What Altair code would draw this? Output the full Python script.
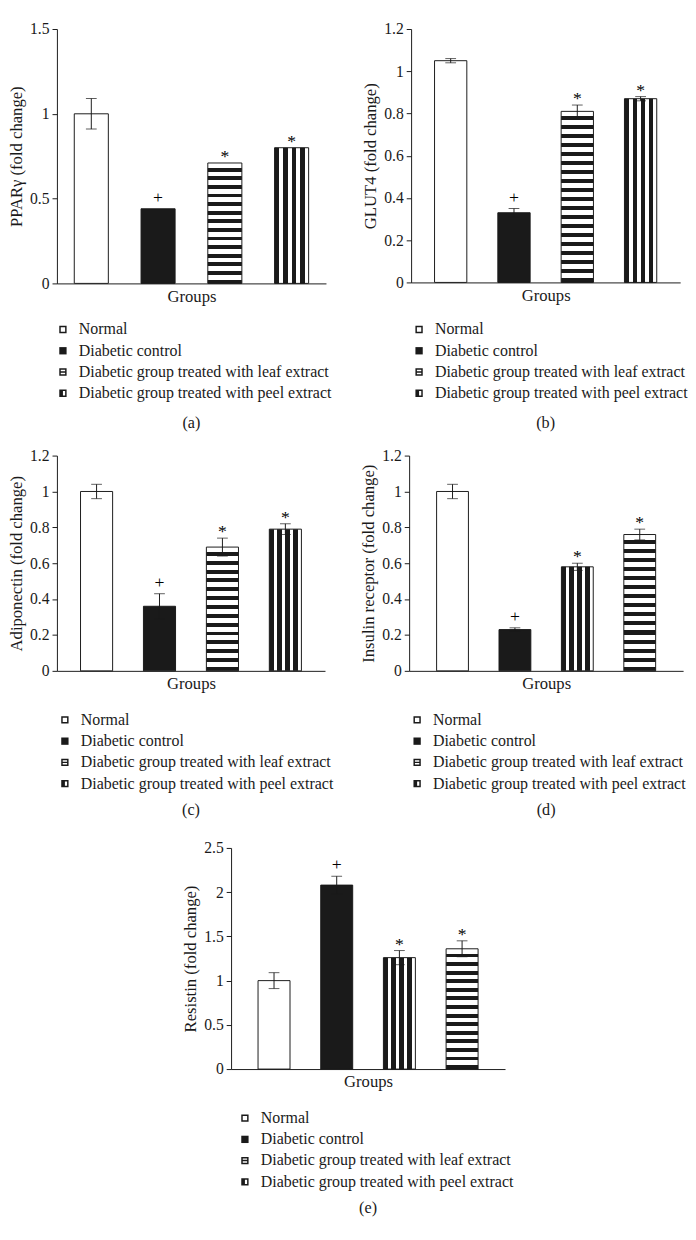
import altair as alt
import pandas as pd

FONT = "Liberation Serif"
INK = "#1a1a1a"

groups = ["Normal", "Diabetic control",
          "Diabetic group treated with leaf extract",
          "Diabetic group treated with peel extract"]

# bar order (left to right) for each panel
order_abc = [groups[0], groups[1], groups[2], groups[3]]
order_de = [groups[0], groups[1], groups[3], groups[2]]

# (a) PPARγ
a_mean = [1.00, 0.44, 0.71, 0.80]
a_err = [0.09, 0.0, 0.0, 0.0]
a_sig = ["", "+", "*", "*"]
# (b) GLUT4
b_mean = [1.05, 0.33, 0.81, 0.87]
b_err = [0.01, 0.02, 0.03, 0.01]
b_sig = ["", "+", "*", "*"]
# (c) Adiponectin
c_mean = [1.00, 0.36, 0.69, 0.79]
c_err = [0.04, 0.07, 0.05, 0.03]
c_sig = ["", "+", "*", "*"]
# (d) Insulin receptor
d_mean = [1.00, 0.23, 0.58, 0.76]
d_err = [0.04, 0.01, 0.02, 0.03]
d_sig = ["", "+", "*", "*"]
# (e) Resistin
e_mean = [1.00, 2.08, 1.26, 1.36]
e_err = [0.09, 0.10, 0.08, 0.09]
e_sig = ["", "+", "*", "*"]

# legend symbol paths (unit square, holes drawn with reverse winding)
OUT = "M-1,-1H1V1H-1Z"
sym_paths = [
    OUT + "M-0.6,-0.6V0.6H0.6V-0.6Z",
    OUT,
    OUT + "M-0.6,-0.6V-0.2H0.6V-0.6Z M-0.6,0.2V0.6H0.6V0.2Z",
    OUT + "M0,-0.6V0.6H0.6V-0.6Z",
]


def stripes(n, vertical):
    stops = []
    for k in range(n):
        s = k / n
        m = (k + 0.55) / n
        e = (k + 1) / n
        if vertical:
            first, second = INK, "white"
        else:
            first, second = "white", INK
        stops += [(first, s), (first, m), (second, m), (second, e)]
    gs = [alt.GradientStop(color=c, offset=o) for c, o in stops]
    if vertical:
        return alt.LinearGradient(gradient="linear", stops=gs, x1=0, x2=1, y1=0, y2=0)
    return alt.LinearGradient(gradient="linear", stops=gs, x1=0, x2=0, y1=0, y2=1)


def panel(ytitle, ymax, ystep, means, errs, sigs, order, w, h, pad_out,
          caption, legend_x, legend_y, cap_offset):
    df = pd.DataFrame({"pos": [1, 2, 3, 4], "group": order, "mean": means,
                       "err": errs, "sig": sigs})
    df["lo"] = df["mean"] - df["err"]
    df["hi"] = df["mean"] + df["err"]
    base = alt.Chart(df)
    nt = int(round(ymax / ystep))
    ticks = [round(i * ystep, 3) for i in range(nt + 1)]
    xenc = alt.X("pos:O", scale=alt.Scale(paddingInner=0.49, paddingOuter=pad_out),
                 axis=alt.Axis(title="Groups", labels=False, ticks=False,
                               titlePadding=5, domainColor=INK))
    yscale = alt.Scale(domain=[0, ymax], nice=False)
    yaxis = alt.Axis(title=ytitle, values=ticks, format="~g", grid=False,
                     tickSize=5, labelPadding=3, titlePadding=4,
                     domainColor=INK, tickColor=INK)
    layers = []
    for i, g in enumerate(order):
        if g == groups[0]:
            fill = "white"
        elif g == groups[1]:
            fill = INK
        elif g == groups[2]:
            n = max(1, int(round(means[i] / ymax * h / 9.0)))
            fill = stripes(n, False)
        else:
            fill = stripes(4, True)
        layers.append(
            base.transform_filter(alt.datum.pos == i + 1)
            .mark_bar(fill=fill, stroke=INK, strokeWidth=1)
            .encode(x=xenc, y=alt.Y("mean:Q", scale=yscale, axis=yaxis))
        )
    eb = base.transform_filter(alt.datum.err > 0)
    layers.append(eb.mark_rule(color=INK, strokeWidth=1).encode(
        x=xenc, y=alt.Y("lo:Q", scale=yscale, axis=yaxis), y2="hi:Q"))
    layers.append(eb.mark_tick(color=INK, thickness=1, size=11).encode(
        x=xenc, y=alt.Y("hi:Q", scale=yscale, axis=yaxis)))
    layers.append(eb.mark_tick(color=INK, thickness=1, size=11).encode(
        x=xenc, y=alt.Y("lo:Q", scale=yscale, axis=yaxis)))
    layers.append(base.transform_filter(alt.datum.sig == "+").mark_text(
        font=FONT, fontSize=18, dy=-6, baseline="alphabetic", color="black").encode(
        x=xenc, y=alt.Y("hi:Q", scale=yscale, axis=yaxis), text="sig:N"))
    layers.append(base.transform_filter(alt.datum.sig == "*").mark_text(
        font=FONT, fontSize=18, dy=-1, baseline="alphabetic", color="black").encode(
        x=xenc, y=alt.Y("hi:Q", scale=yscale, axis=yaxis), text="sig:N"))
    layers.append(base.mark_point(filled=True, opacity=0, color=INK).encode(
        x=xenc, y=alt.Y("mean:Q", scale=yscale, axis=yaxis),
        shape=alt.Shape("group:N",
                        scale=alt.Scale(domain=groups, range=sym_paths),
                        legend=alt.Legend(title=None, orient="none",
                                          legendX=legend_x, legendY=legend_y,
                                          labelFont=FONT, labelFontSize=16.3,
                                          labelColor=INK, symbolSize=56,
                                          symbolFillColor=INK,
                                          symbolStrokeColor=INK,
                                          symbolStrokeWidth=0, symbolOpacity=1,
                                          rowPadding=4.7, labelOffset=8,
                                          labelLimit=500))))
    return alt.layer(*layers).properties(
        width=w, height=h,
        title=alt.TitleParams(caption, orient="bottom", font=FONT, fontSize=16.5,
                              fontWeight="normal", color=INK, offset=cap_offset,
                              anchor="middle"))


pa = panel("PPARγ (fold change)", 1.5, 0.5, a_mean, a_err, a_sig, order_abc,
           275, 260, 0.26, "(a)", -2, 299, 14)
pb = panel("GLUT4 (fold change)", 1.2, 0.2, b_mean, b_err, b_sig, order_abc,
           275, 259, 0.37, "(b)", 0, 299, 14)
pc = panel("Adiponectin (fold change)", 1.2, 0.2, c_mean, c_err, c_sig, order_abc,
           274, 220, 0.375, "(c)", 0, 262, 10)
pd_ = panel("Insulin receptor (fold change)", 1.2, 0.2, d_mean, d_err, d_sig, order_de,
            280, 220, 0.44, "(d)", 0, 262, 10)
pe = panel("Resistin (fold change)", 2.5, 0.5, e_mean, e_err, e_sig, order_de,
           280, 226, 0.43, "(e)", 6, 268, 10)


def indep(c):
    return c.resolve_scale(y="independent", shape="independent", x="independent").resolve_legend(shape="independent")


row1 = indep(alt.hconcat(pa, pb, spacing=31))
row2 = indep(alt.hconcat(pc, pd_, spacing=27))
top = indep(alt.vconcat(row1, row2, spacing=16))
chart = indep(alt.vconcat(top, pe, spacing=22, center=True))

chart = chart.properties(
    padding={"left": 0, "top": 0, "right": 0, "bottom": 0},
    background="white",
).configure_view(
    stroke=None
).configure_axis(
    labelFont=FONT, titleFont=FONT, labelFontSize=16, titleFontSize=17,
    titleFontWeight="normal", labelColor=INK, titleColor=INK
)

chart.save("out.html", embed_options={"renderer": "svg", "actions": False})
